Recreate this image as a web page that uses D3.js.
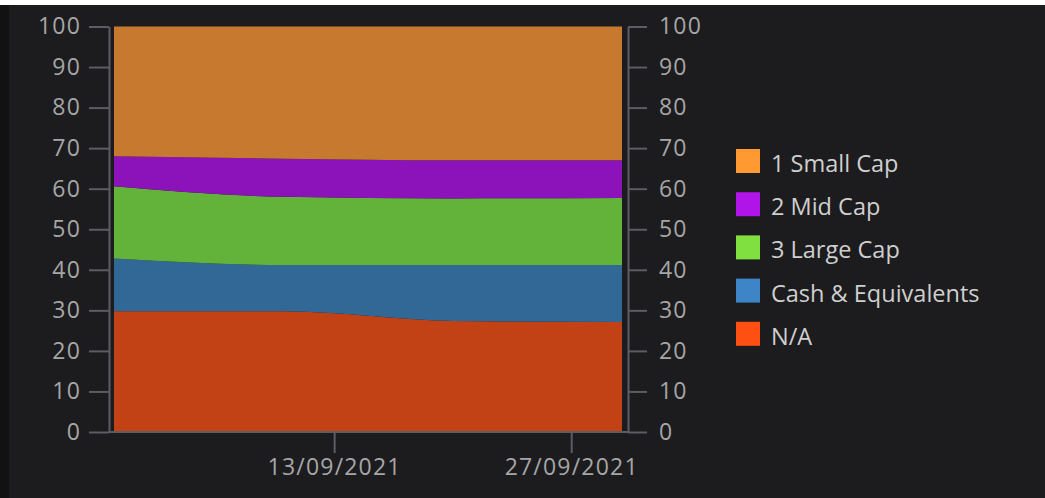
<!DOCTYPE html>
<html><head><meta charset="utf-8">
<script src="https://cdn.jsdelivr.net/npm/d3@7"></script>
<style>
html,body{margin:0;padding:0;background:#fff;}
svg{display:block;}
</style></head><body>
<svg id="chart" width="1045" height="498"></svg>
<script>
// Portfolio allocation by market cap, % of holdings
const dates = ["2021-08-31", "2021-09-10", "2021-09-20", "2021-09-30"];
const seriesKeys = ["N/A", "Cash & Equivalents", "3 Large Cap", "2 Mid Cap", "1 Small Cap"];
const naValues = [29.8, 29.8, 27.4, 27.1];
const cashValues = [13.0, 11.4, 13.8, 14.1];
const largeCapValues = [17.8, 16.8, 16.4, 16.5];
const midCapValues = [7.4, 9.4, 9.4, 9.3];
const smallCapValues = [32.0, 32.6, 33.0, 33.0];
const yTickValues = [0, 10, 20, 30, 40, 50, 60, 70, 80, 90, 100];
const xTickDates = ["2021-09-13", "2021-09-27"];

const areaColors = {
  "1 Small Cap": "#c77a2f",
  "2 Mid Cap": "#8c12ba",
  "3 Large Cap": "#63b23a",
  "Cash & Equivalents": "#326896",
  "N/A": "#c24115"
};
const legendColors = {
  "1 Small Cap": "#ff9a33",
  "2 Mid Cap": "#b014e8",
  "3 Large Cap": "#80e040",
  "Cash & Equivalents": "#3d85c6",
  "N/A": "#ff4f12"
};

const parse = d3.timeParse("%Y-%m-%d");
const rows = dates.map((d, i) => ({
  date: parse(d),
  "N/A": naValues[i],
  "Cash & Equivalents": cashValues[i],
  "3 Large Cap": largeCapValues[i],
  "2 Mid Cap": midCapValues[i],
  "1 Small Cap": smallCapValues[i]
}));

const svg = d3.select("#chart");
const bg = "#1c1c1e";
const axisColor = "#5c5c62";
const labelColor = "#a6a6a6";
const fontFamily = "'Open Sans', sans-serif";

// panel background
svg.append("rect").attr("x", 0).attr("y", 0).attr("width", 1045).attr("height", 498).attr("fill", "#fff");
svg.append("rect").attr("x", 0).attr("y", 5).attr("width", 1045).attr("height", 493).attr("fill", bg);
svg.append("rect").attr("x", 0).attr("y", 5).attr("width", 9).attr("height", 493).attr("fill", "#121213");

const plotLeft = 114, plotRight = 622;
const leftAxisX = 109, rightAxisX = 628;

const x = d3.scaleTime()
  .domain(d3.extent(rows, d => d.date))
  .range([plotLeft, plotRight]);
const y = d3.scaleLinear().domain([0, 100]).range([432, 26.5]);

const stacked = d3.stack().keys(seriesKeys)(rows);
const area = d3.area()
  .x(d => x(d.data.date))
  .y0(d => y(d[0]))
  .y1(d => y(d[1]))
  .curve(d3.curveMonotoneX);

svg.append("g").selectAll("path")
  .data(stacked)
  .join("path")
  .attr("d", area)
  .attr("fill", d => areaColors[d.key]);

// axes
function styleAxis(g) {
  g.select(".domain").attr("stroke", axisColor).attr("stroke-width", 2);
  g.selectAll(".tick line").attr("stroke", axisColor).attr("stroke-width", 2);
  g.selectAll(".tick text")
    .attr("fill", labelColor)
    .style("font-family", fontFamily)
    .style("font-size", "23px")
    .style("letter-spacing", "1.2px");
}

const leftAxis = svg.append("g")
  .attr("transform", `translate(${leftAxisX},0)`)
  .call(d3.axisLeft(y).tickValues(yTickValues).tickSize(20).tickSizeOuter(0).tickPadding(8));
styleAxis(leftAxis);

const rightAxis = svg.append("g")
  .attr("transform", `translate(${rightAxisX},0)`)
  .call(d3.axisRight(y).tickValues(yTickValues).tickSize(19).tickSizeOuter(0).tickPadding(12));
styleAxis(rightAxis);

const bottomAxis = svg.append("g")
  .attr("transform", `translate(0,${y(0)})`)
  .call(d3.axisBottom(x)
    .tickValues(xTickDates.map(parse))
    .tickFormat(d3.timeFormat("%d/%m/%Y"))
    .tickSize(21).tickSizeOuter(0).tickPadding(6));
bottomAxis.select(".domain").remove();
styleAxis(bottomAxis);
svg.append("line")
  .attr("x1", leftAxisX).attr("x2", rightAxisX)
  .attr("y1", y(0)).attr("y2", y(0))
  .attr("stroke", axisColor).attr("stroke-width", 2);

// legend
const legendKeys = ["1 Small Cap", "2 Mid Cap", "3 Large Cap", "Cash & Equivalents", "N/A"];
const legend = svg.append("g").attr("transform", "translate(736,149)");
const item = legend.selectAll("g")
  .data(legendKeys)
  .join("g")
  .attr("transform", (d, i) => `translate(0,${i * 43.2})`);
item.append("rect")
  .attr("width", 24).attr("height", 24)
  .attr("fill", d => legendColors[d]);
item.append("text")
  .attr("x", 35).attr("y", 23)
  .attr("fill", "#cfcfcf")
  .style("font-family", fontFamily)
  .style("font-size", "23.5px")
  .text(d => d);
</script>
</body></html>
